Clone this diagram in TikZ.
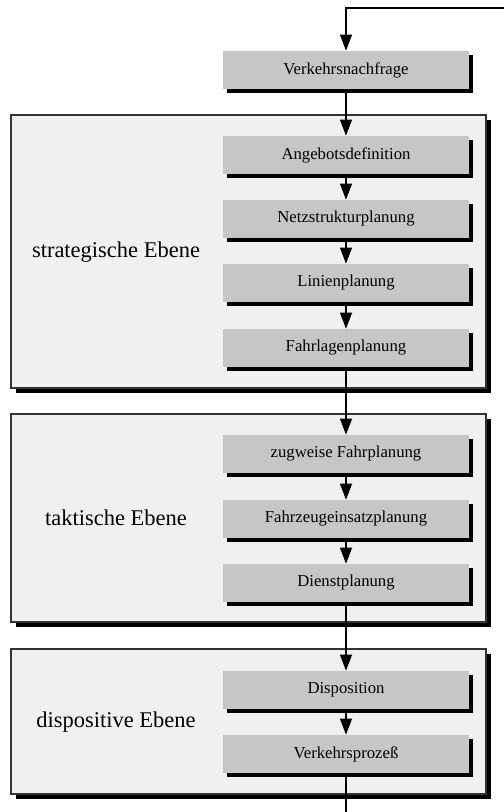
\documentclass[tikz,border=0pt]{standalone}
\usepackage{fontspec}
\setmainfont{Liberation Serif}
\usetikzlibrary{arrows.meta,shadows}
\definecolor{framegray}{HTML}{F0F0F0}
\definecolor{boxgray}{HTML}{C6C6C6}
\begin{document}
\begin{tikzpicture}[x=0.02cm,y=-0.02cm,
    plan/.style={fill=boxgray, minimum width=4.94cm, minimum height=0.76cm,
      inner sep=0pt, font=\fontsize{9.5}{11}\selectfont,
      drop shadow={shadow xshift=0.08cm, shadow yshift=-0.08cm, fill=black, opacity=1}},
    level/.style={draw=black!80, line width=0.6pt, fill=framegray,
      drop shadow={shadow xshift=0.1cm, shadow yshift=-0.1cm, fill=black, opacity=1}},
    levelname/.style={font=\fontsize{12.8}{15}\selectfont},
    flow/.style={line width=0.7pt, -{Triangle[length=0.32cm,width=0.24cm]}}]
  \useasboundingbox (0,0) rectangle (504,812);
  % Ebenen
  \draw[level] (11,115) rectangle (486,388);
  \draw[level] (11,414) rectangle (486,622);
  \draw[level] (11,649) rectangle (486,794);
  \node[levelname] (strat) at (116,252) {strategische Ebene};
  \node[levelname] (takt) at (116,518) {taktische Ebene};
  \node[levelname] (dispo) at (116,722) {dispositive Ebene};
  % Planungsschritte
  \draw
    (346,70) node[plan] (nachfrage){Verkehrsnachfrage}
    (346,155) node[plan] (angebot){Angebotsdefinition}
    (346,219) node[plan] (netz){Netzstrukturplanung}
    (346,283) node[plan] (linien){Linienplanung}
    (346,348) node[plan] (fahrlagen){Fahrlagenplanung}
    (346,454) node[plan] (zugweise){zugweise Fahrplanung}
    (346,519) node[plan] (fahrzeug){Fahrzeugeinsatzplanung}
    (346,583) node[plan] (dienst){Dienstplanung}
    (346,690) node[plan] (disposition){Disposition}
    (346,754) node[plan] (prozess){Verkehrsprozeß};
  \coordinate (rueck) at (504,8);
  \coordinate (ende) at (346,812);
  \begin{scope}[flow]
    \draw (rueck) -| (nachfrage);
    \draw (nachfrage) to (angebot);
    \draw (angebot) to (netz);
    \draw (netz) to (linien);
    \draw (linien) to (fahrlagen);
    \draw (fahrlagen) to (zugweise);
    \draw (zugweise) to (fahrzeug);
    \draw (fahrzeug) to (dienst);
    \draw (dienst) to (disposition);
    \draw (disposition) to (prozess);
  \end{scope}
  \draw[line width=0.7pt] (prozess) -- (ende);
\end{tikzpicture}
\end{document}
